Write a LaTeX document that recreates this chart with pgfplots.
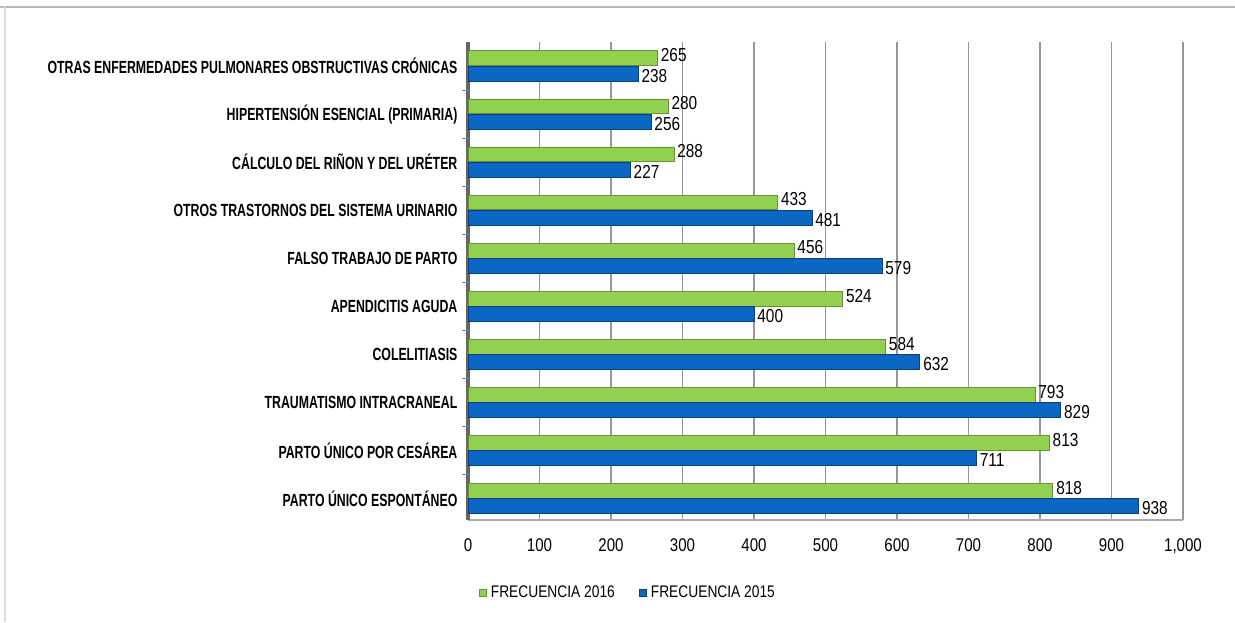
\documentclass[border=0pt]{standalone}
\usepackage{fontspec}
\setmainfont{Liberation Sans}[FakeStretch=0.82]
\newfontfamily\estrecha{Liberation Sans}[FakeStretch=0.70]
\usepackage{pgfplots}
\pgfplotsset{compat=1.18}
\definecolor{verde}{RGB}{146,208,80}
\definecolor{verdeborde}{RGB}{96,150,45}
\definecolor{azul}{RGB}{10,104,196}
\definecolor{azulborde}{RGB}{10,62,130}
\definecolor{rejilla}{RGB}{150,150,150}

\begin{document}
\begin{tikzpicture}
% 1 px of the reference = 0.5 pt
\path[use as bounding box] (0pt,0pt) rectangle (617.5pt,311pt);
\draw[gray!55, line width=1pt] (0pt,307.5pt) -- (617.5pt,307.5pt);
\draw[gray!25, line width=0.8pt] (2.5pt,0pt) -- (2.5pt,307.5pt);
\begin{axis}[
    at={(234pt,51pt)}, anchor=south west,
    scale only axis,
    width=357.5pt, height=239pt,
    xbar,
    bar width=0.31,
    xmin=0, xmax=1000,
    ymin=-0.45, ymax=9.5,
    xtick={0,100,...,1000},
    ytick={0,...,9},
    yticklabels={
        PARTO ÚNICO ESPONTÁNEO,
        PARTO ÚNICO POR CESÁREA,
        TRAUMATISMO INTRACRANEAL,
        COLELITIASIS,
        APENDICITIS AGUDA,
        FALSO TRABAJO DE PARTO,
        OTROS TRASTORNOS DEL SISTEMA URINARIO,
        CÁLCULO DEL RIÑON Y DEL URÉTER,
        HIPERTENSIÓN ESENCIAL (PRIMARIA),
        OTRAS ENFERMEDADES PULMONARES OBSTRUCTIVAS CRÓNICAS},
    ytick style={draw=none},
    extra y ticks={0.5,1.5,...,8.5},
    extra y tick labels={},
    extra y tick style={ytick style={draw=gray, thin}, major tick length=3pt, tick align=outside, grid=none},
    xtick style={draw=none},
    axis x line*=bottom,
    axis y line*=left,
    x axis line style={draw=rejilla!80, line width=0.8pt},
    y axis line style={draw=gray!80!black, line width=2pt},
    xmajorgrids,
    grid style={draw=rejilla, line width=0.6pt},
    /pgf/number format/assume math mode=true,
    /pgf/number format/1000 sep={,},
    xticklabel style={font=\fontsize{9.2}{10}\selectfont, yshift=-6pt},
    yticklabel style={font=\estrecha\bfseries\fontsize{8.8}{10}\selectfont, xshift=2.5pt},
    nodes near coords,
    every node near coord/.append style={font=\fontsize{9.4}{10}\selectfont, anchor=west, inner sep=1pt, xshift=0.5pt},
    legend columns=2,
    legend style={at={(0.225,-0.153)}, anchor=center, draw=none,
        font=\fontsize{8.4}{10}\selectfont,
        /tikz/every even column/.append style={column sep=10pt}},
    legend image code/.code={\fill[#1] (0pt,-1.8pt) rectangle (3.6pt,1.8pt);},
]
\addplot[fill=verde, draw=verdeborde, bar shift=0.16,
    every node near coord/.append style={yshift=1.5pt}] coordinates {
(818,0) (813,1) (793,2) (584,3) (524,4) (456,5) (433,6) (288,7) (280,8) (265,9)
};
\addlegendentry{FRECUENCIA 2016}
\addplot[fill=azul, draw=azulborde, bar shift=-0.16,
    every node near coord/.append style={yshift=-1pt}] coordinates {
(938,0) (711,1) (829,2) (632,3) (400,4) (579,5) (481,6) (227,7) (256,8) (238,9)
};
\addlegendentry{FRECUENCIA 2015}
\end{axis}
\end{tikzpicture}
\end{document}
